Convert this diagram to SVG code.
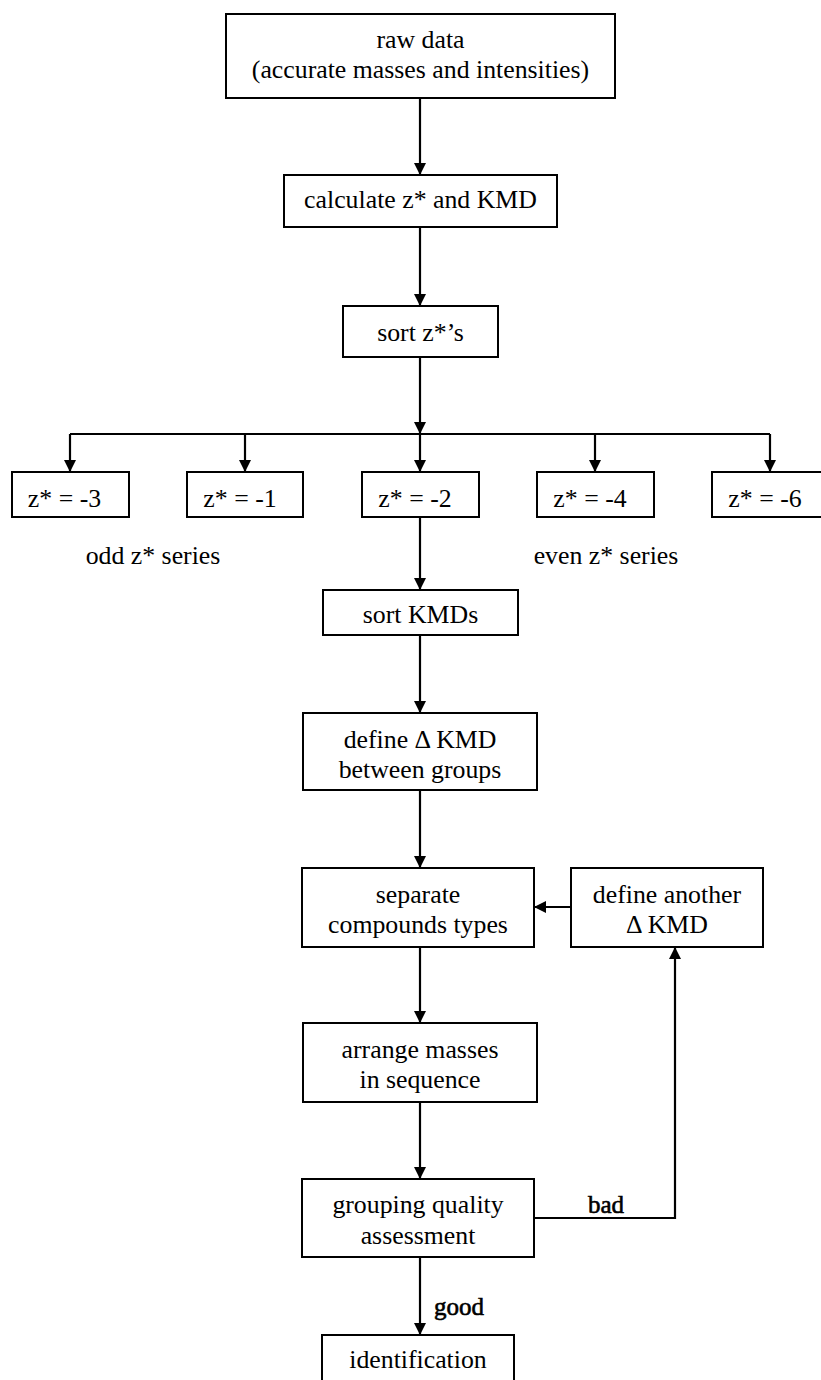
<svg xmlns="http://www.w3.org/2000/svg" width="821" height="1380" viewBox="0 0 821 1380">
<style>
.box{fill:#fff;stroke:#000;stroke-width:2}
.t{font-family:"Liberation Serif","Times New Roman",serif;font-size:25.8px;fill:#000;text-anchor:middle}
.lb{font-family:"Liberation Serif","Times New Roman",serif;font-size:25px;fill:#000;stroke:#000;stroke-width:0.6}
.c{fill:none;stroke:#000;stroke-width:2.2}
</style>
<defs>
<marker id="ah" viewBox="0 0 12 12" refX="12" refY="6" markerWidth="12" markerHeight="12" markerUnits="userSpaceOnUse" orient="auto">
<path d="M0,0 L12,6 L0,12 Z" fill="#000"/>
</marker>
</defs>
<rect width="821" height="1380" fill="#fff"/>
<g id="connectors">
<line class="c" x1="420" y1="98" x2="420" y2="175" marker-end="url(#ah)"/>
<line class="c" x1="420" y1="227" x2="420" y2="306" marker-end="url(#ah)"/>
<line class="c" x1="420" y1="357" x2="420" y2="434" marker-end="url(#ah)"/>
<line class="c" x1="70" y1="434" x2="770" y2="434"/>
<line class="c" x1="70" y1="434" x2="70" y2="472" marker-end="url(#ah)"/>
<line class="c" x1="245" y1="434" x2="245" y2="472" marker-end="url(#ah)"/>
<line class="c" x1="420" y1="434" x2="420" y2="472" marker-end="url(#ah)"/>
<line class="c" x1="595" y1="434" x2="595" y2="472" marker-end="url(#ah)"/>
<line class="c" x1="770" y1="434" x2="770" y2="472" marker-end="url(#ah)"/>
<line class="c" x1="420" y1="517" x2="420" y2="590" marker-end="url(#ah)"/>
<line class="c" x1="420" y1="635" x2="420" y2="713" marker-end="url(#ah)"/>
<line class="c" x1="420" y1="790" x2="420" y2="868" marker-end="url(#ah)"/>
<line class="c" x1="571" y1="907" x2="534" y2="907" marker-end="url(#ah)"/>
<line class="c" x1="420" y1="947" x2="420" y2="1023" marker-end="url(#ah)"/>
<line class="c" x1="420" y1="1102" x2="420" y2="1179" marker-end="url(#ah)"/>
<polyline class="c" points="534,1218 675,1218 675,947" marker-end="url(#ah)"/>
<line class="c" x1="420" y1="1257" x2="420" y2="1335" marker-end="url(#ah)"/>
<text class="lb" x="588" y="1213">bad</text>
<text class="lb" x="434" y="1315">good</text>
</g>
<g id="raw"><rect class="box" x="226" y="14" width="389" height="84"/><text class="t" x="420.5" y="48">raw data</text><text class="t" x="420.5" y="78">(accurate masses and intensities)</text></g>
<g id="calc"><rect class="box" x="284" y="175" width="273" height="52"/><text class="t" x="420.5" y="208">calculate z* and KMD</text></g>
<g id="sortz"><rect class="box" x="343" y="306" width="155" height="51"/><text class="t" x="420.5" y="341">sort z*’s</text></g>
<g id="z3"><rect class="box" x="12" y="472" width="117" height="45"/><text class="t" x="64.5" y="507">z* = -3</text></g>
<g id="z1"><rect class="box" x="187" y="472" width="116" height="45"/><text class="t" x="240" y="507">z* = -1</text></g>
<g id="z2"><rect class="box" x="362" y="472" width="117" height="45"/><text class="t" x="415" y="507">z* = -2</text></g>
<g id="z4"><rect class="box" x="537" y="472" width="117" height="45"/><text class="t" x="590" y="507">z* = -4</text></g>
<g id="z6"><rect class="box" x="712" y="472" width="117" height="45"/><text class="t" x="765" y="507">z* = -6</text></g>
<g id="odd"><text class="t" x="153" y="564">odd z* series</text></g>
<g id="even"><text class="t" x="606" y="564">even z* series</text></g>
<g id="sortkmd"><rect class="box" x="323" y="590" width="195" height="45"/><text class="t" x="420.5" y="623">sort KMDs</text></g>
<g id="define"><rect class="box" x="303" y="713" width="234" height="77"/><text class="t" x="420" y="748">define Δ KMD</text><text class="t" x="420" y="778">between groups</text></g>
<g id="separate"><rect class="box" x="302" y="868" width="232" height="79"/><text class="t" x="418" y="903">separate</text><text class="t" x="418" y="933">compounds types</text></g>
<g id="another"><rect class="box" x="571" y="868" width="192" height="79"/><text class="t" x="667" y="903">define another</text><text class="t" x="667" y="933">Δ KMD</text></g>
<g id="arrange"><rect class="box" x="303" y="1023" width="234" height="79"/><text class="t" x="420" y="1058">arrange masses</text><text class="t" x="420" y="1088">in sequence</text></g>
<g id="grouping"><rect class="box" x="302" y="1179" width="232" height="78"/><text class="t" x="418" y="1213">grouping quality</text><text class="t" x="418" y="1244">assessment</text></g>
<g id="ident"><rect class="box" x="322" y="1335" width="192" height="60"/><text class="t" x="418" y="1368">identification</text></g>
</svg>
